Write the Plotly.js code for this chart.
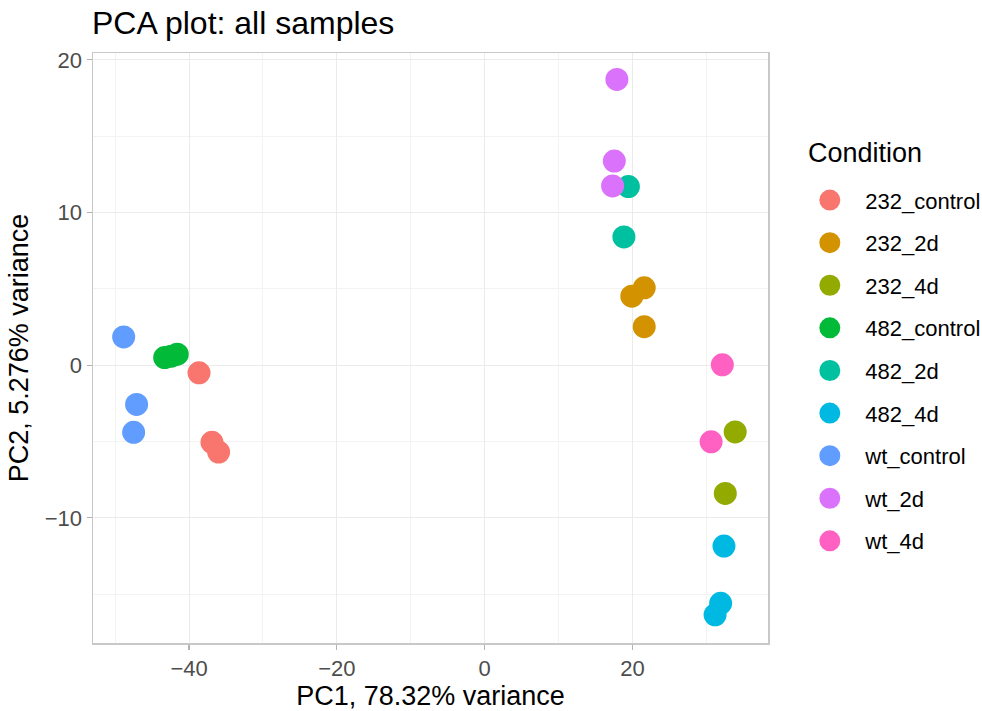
<!DOCTYPE html>
<html>
<head>
<meta charset="utf-8">
<script src="https://cdn.plot.ly/plotly-3.0.1.min.js"></script>
<style>html,body{margin:0;padding:0;background:#fff;}#chart{width:982px;height:711px;}</style>
</head>
<body>
<div id="chart"></div>
<script>
// Conditions (legend order) and colours
const conditions = ["232_control","232_2d","232_4d","482_control","482_2d","482_4d","wt_control","wt_2d","wt_4d"];
const colors = ["#F8766D","#D39200","#93AA00","#00BA38","#00C19F","#00B9E3","#619CFF","#DB72FB","#FF61C3"];

// PCA coordinates per condition
const pc1_232_control = [-38.65, -36.9, -36.0];
const pc2_232_control = [-0.5, -5.05, -5.69];
const pc1_232_2d = [21.6, 19.92, 21.6];
const pc2_232_2d = [5.07, 4.52, 2.52];
const pc1_232_4d = [33.91, 32.57];
const pc2_232_4d = [-4.37, -8.4];
const pc1_482_control = [-43.3, -42.4, -41.6];
const pc2_482_control = [0.5, 0.59, 0.72];
const pc1_482_2d = [19.46, 18.85];
const pc2_482_2d = [11.7, 8.4];
const pc1_482_4d = [32.39, 31.94, 31.19];
const pc2_482_4d = [-11.85, -15.6, -16.35];
const pc1_wt_control = [-48.85, -47.1, -47.5];
const pc2_wt_control = [1.85, -2.57, -4.4];
const pc1_wt_2d = [17.9, 17.55, 17.32];
const pc2_wt_2d = [18.72, 13.37, 11.74];
const pc1_wt_4d = [32.17, 30.65];
const pc2_wt_4d = [0.02, -5.02];

const pc1 = [pc1_232_control, pc1_232_2d, pc1_232_4d, pc1_482_control, pc1_482_2d, pc1_482_4d, pc1_wt_control, pc1_wt_2d, pc1_wt_4d];
const pc2 = [pc2_232_control, pc2_232_2d, pc2_232_4d, pc2_482_control, pc2_482_2d, pc2_482_4d, pc2_wt_control, pc2_wt_2d, pc2_wt_4d];

const xMinorGrid = [-50, -30, -10, 10, 30];
const yMinorGrid = [-15, -5, 5, 15];

const font = "Liberation Sans, Arial, Helvetica, sans-serif";

const traces = conditions.map((c, i) => ({
  type: "scatter",
  mode: "markers",
  name: c,
  legendgroup: c,
  x: pc1[i],
  y: pc2[i],
  marker: {color: colors[i], size: 18, line: {width: 5, color: colors[i]}},
  hoverinfo: "x+y+name"
}));

const layout = {
  width: 982, height: 711,
  paper_bgcolor: "#fff", plot_bgcolor: "#fff",
  margin: {l: 93, r: 214, t: 53, b: 68, autoexpand: false},
  font: {family: font, color: "#000"},
  title: {text: "PCA plot: all samples", x: 92/982, xanchor: "left", xref: "container", y: 0.968, yanchor: "middle",
          font: {family: font, size: 32, color: "#000"}},
  xaxis: {
    range: [-53.0, 38.35], tick0: 0, dtick: 20,
    showgrid: true, gridcolor: "#EBEBEB", gridwidth: 1, zeroline: false,
    showline: true, mirror: true, linecolor: "#C8C8C8", linewidth: 1.5,
    ticks: "outside", ticklen: 5, tickcolor: "#B3B3B3", tickwidth: 1.2,
    tickfont: {family: font, size: 22, color: "#4D4D4D"},
    minor: {tickmode: "array", tickvals: xMinorGrid, showgrid: true, gridcolor: "#F3F3F3", gridwidth: 1},
    title: {text: "PC1, 78.32% variance", font: {family: font, size: 27, color: "#000"}, standoff: 0}
  },
  yaxis: {
    range: [-18.2, 20.45], tick0: 0, dtick: 10,
    showgrid: true, gridcolor: "#EBEBEB", gridwidth: 1, zeroline: false,
    showline: true, mirror: true, linecolor: "#C8C8C8", linewidth: 1.5,
    ticks: "outside", ticklen: 5, tickcolor: "#B3B3B3", tickwidth: 1.2,
    tickfont: {family: font, size: 22, color: "#4D4D4D"},
    minor: {tickmode: "array", tickvals: yMinorGrid, showgrid: true, gridcolor: "#F3F3F3", gridwidth: 1},
    title: {text: "PC2, 5.276% variance", font: {family: font, size: 27, color: "#000"}, standoff: 8}
  },
  legend: {
    x: 1.039, xanchor: "left", y: 0.786, yanchor: "top",
    font: {family: font, size: 22, color: "#000"},
    traceorder: "grouped", tracegroupgap: 11,
    itemsizing: "trace", itemwidth: 61, bgcolor: "rgba(0,0,0,0)"
  },
  annotations: [{
    text: "Condition", xref: "paper", yref: "paper", x: 1.0556, xanchor: "left",
    y: (643 - 153) / 590, yanchor: "middle", showarrow: false,
    font: {family: font, size: 27, color: "#000"}
  }],
  showlegend: true
};

Plotly.newPlot("chart", traces, layout, {displayModeBar: false, staticPlot: true});
</script>
</body>
</html>
